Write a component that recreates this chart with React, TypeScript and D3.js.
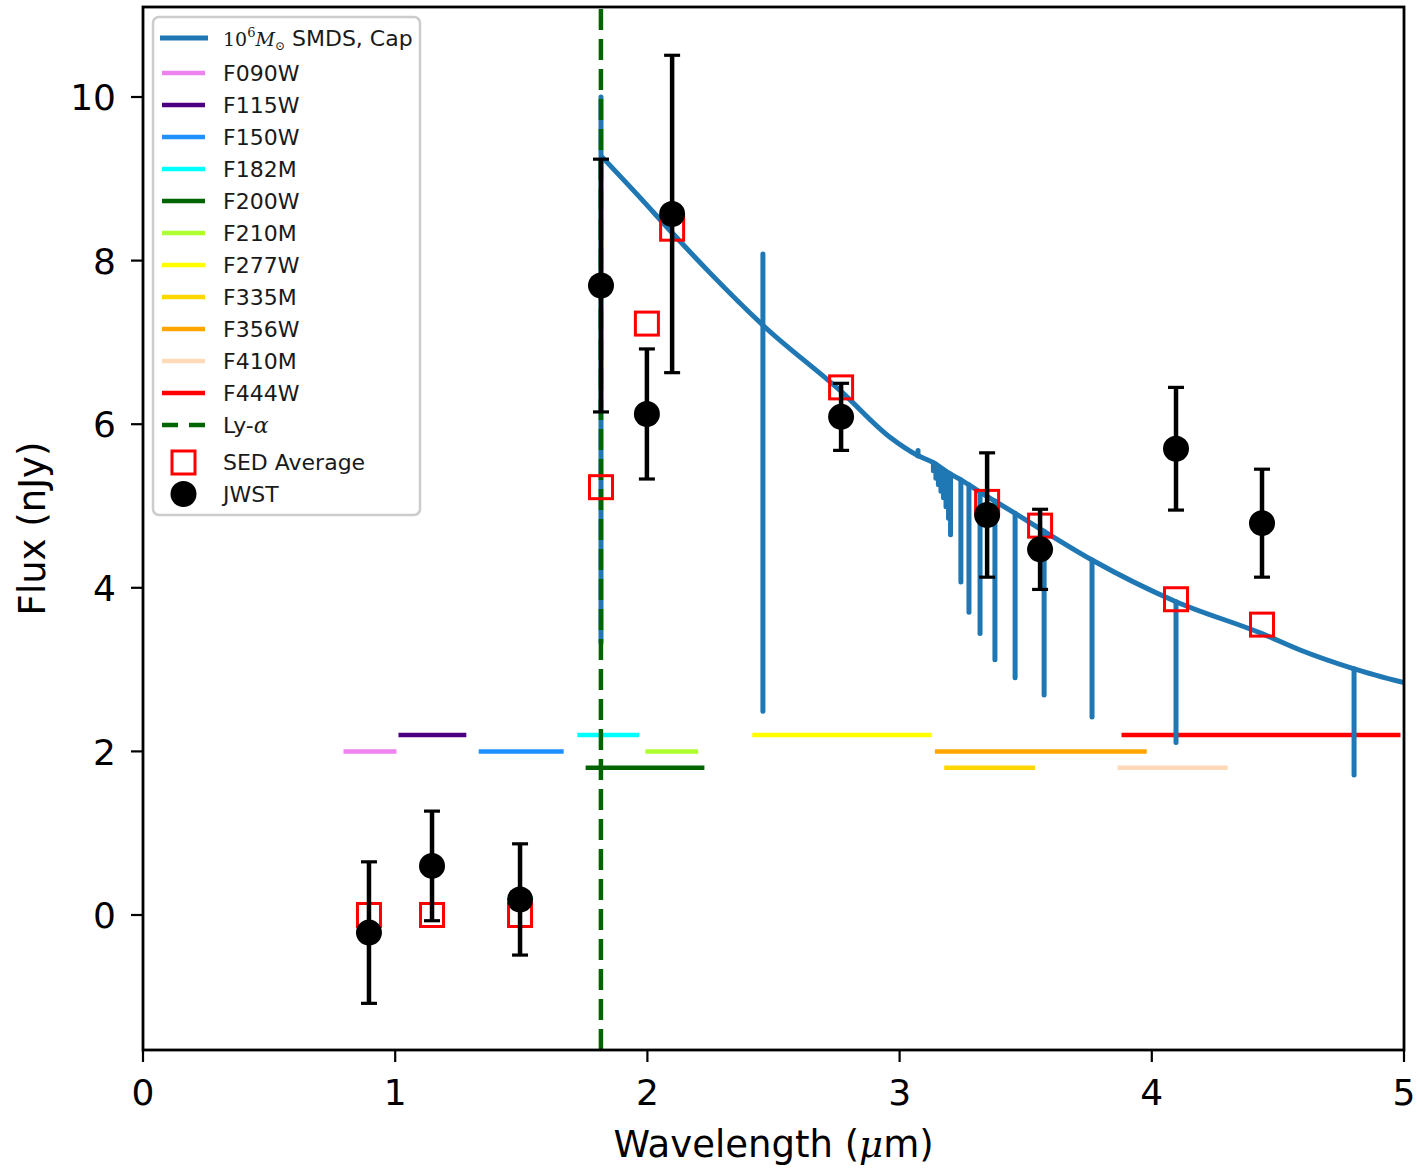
import React from "react";
import * as d3 from "d3";

// ---------- data ----------
const filterNames = ["F090W", "F115W", "F150W", "F182M", "F200W", "F210M", "F277W", "F335M", "F356W", "F410M", "F444W"];
const filterColors = ["#ee82ee", "#4b0082", "#1e90ff", "#00ffff", "#006400", "#adff2f", "#ffff00", "#ffd700", "#ffa500", "#ffdab9", "#ff0000"];
const filterMin = [0.795, 1.013, 1.331, 1.722, 1.755, 1.992, 2.416, 3.177, 3.140, 3.864, 3.880];
const filterMax = [1.005, 1.282, 1.668, 1.968, 2.226, 2.201, 3.127, 3.537, 3.980, 4.301, 4.986];
const filterLevel = [2.0, 2.2, 2.0, 2.2, 1.8, 2.0, 2.2, 1.8, 2.0, 1.8, 2.2];

// SMDS model continuum
const contWave = [1.816, 1.971, 2.098, 2.248, 2.458, 2.768, 2.962, 3.070, 3.134, 3.202, 3.243, 3.319, 3.378, 3.458, 3.573, 3.763, 4.096, 4.437, 4.588, 4.802, 5.0];
const contFlux = [9.28, 8.77, 8.34, 7.85, 7.21, 6.40, 5.84, 5.62, 5.53, 5.39, 5.32, 5.17, 5.06, 4.91, 4.69, 4.34, 3.83, 3.44, 3.24, 3.01, 2.84];

// SMDS model spectral lines (vertical features): wavelength, upper end, lower end
const lineWave = [1.816, 2.458, 3.073, 3.134, 3.144, 3.154, 3.164, 3.174, 3.184, 3.194, 3.202, 3.243, 3.275, 3.319, 3.378, 3.458, 3.573, 3.763, 4.096, 4.802];
const lineTop = [10.0, 8.08, 5.68, 5.53, 5.51, 5.48, 5.46, 5.44, 5.42, 5.40, 5.39, 5.32, 5.26, 5.17, 5.06, 4.91, 4.69, 4.34, 3.83, 3.01];
const lineBottom = [3.33, 2.49, 5.61, 5.43, 5.34, 5.26, 5.18, 5.10, 4.99, 4.85, 4.65, 4.07, 3.70, 3.44, 3.12, 2.90, 2.69, 2.42, 2.11, 1.71];

const jwstWave = [0.896, 1.146, 1.495, 1.816, 1.998, 2.098, 2.768, 3.347, 3.557, 4.096, 4.437];
const jwstFlux = [-0.215, 0.60, 0.19, 7.695, 6.125, 8.57, 6.09, 4.89, 4.47, 5.70, 4.79];
const jwstErr = [0.865, 0.67, 0.68, 1.545, 0.795, 1.94, 0.41, 0.76, 0.49, 0.75, 0.66];
const sedFlux = [0.0, 0.0, 0.0, 5.23, 7.23, 8.39, 6.45, 5.05, 4.76, 3.86, 3.55];

const lyaWave = 1.8157;

const xTicks = [0, 1, 2, 3, 4, 5];
const yTicks = [0, 2, 4, 6, 8, 10];

// ---------- layout ----------
const W = 1420;
const H = 1170;
const left = 143, right = 1404, top = 7, bottom = 1050;
const FONT = "DejaVu Sans, sans-serif";
const SERIF = "DejaVu Serif, serif";
const SPEC_COLOR = "#1f77b4";

export default function App() {
  const x = d3.scaleLinear().domain([0, 5]).range([left, right]);
  const y = d3.scaleLinear().domain([0, 10]).range([915, 97]);
  const yMin = y.invert(bottom);
  const yMax = y.invert(top);

  const contPts: [number, number][] = contWave.map((w, i) => [w, contFlux[i]]);
  const contLine = d3
    .line<[number, number]>()
    .x((d) => x(d[0]))
    .y((d) => y(d[1]))
    .curve(d3.curveMonotoneX);

  const tickFs = 36;
  const legFs = 22;

  const legendRows: { label: string; color: string; y: number }[] = filterNames.map((n, i) => ({
    label: n,
    color: filterColors[i],
    y: 73 + 32 * i,
  }));

  return (
    <svg width={W} height={H} style={{ position: "absolute", left: 0, top: 0, background: "#fff" }} xmlns="http://www.w3.org/2000/svg">
      <rect x={0} y={0} width={W} height={H} fill="#fff" />
      <defs>
        <clipPath id="plotclip">
          <rect x={left} y={top} width={right - left} height={bottom - top} />
        </clipPath>
      </defs>

      <g clipPath="url(#plotclip)">
        {/* filter bands */}
        {filterNames.map((n, i) => (
          <line key={n} x1={x(filterMin[i])} x2={x(filterMax[i])} y1={y(filterLevel[i])} y2={y(filterLevel[i])} stroke={filterColors[i]} strokeWidth={4.5} />
        ))}
        {/* spectrum */}
        <path d={contLine(contPts) || ""} fill="none" stroke={SPEC_COLOR} strokeWidth={5} strokeLinejoin="round" />
        {lineWave.map((w, i) => (
          <line key={"ln" + i} x1={x(w)} x2={x(w)} y1={y(lineTop[i])} y2={y(lineBottom[i])} stroke={SPEC_COLOR} strokeWidth={5} strokeLinecap="round" />
        ))}
        {/* Ly-alpha */}
        <line x1={x(lyaWave)} x2={x(lyaWave)} y1={y(yMin)} y2={y(yMax)} stroke="#006400" strokeWidth={4.5} strokeDasharray="21 9" />
        {/* SED average squares */}
        {jwstWave.map((w, i) => (
          <rect key={"s" + i} x={x(w) - 11.5} y={y(sedFlux[i]) - 11.5} width={23} height={23} fill="none" stroke="#ff0000" strokeWidth={3} />
        ))}
        {/* error bars */}
        {jwstWave.map((w, i) => (
          <g key={"e" + i} stroke="#000">
            <line x1={x(w)} x2={x(w)} y1={y(jwstFlux[i] - jwstErr[i])} y2={y(jwstFlux[i] + jwstErr[i])} strokeWidth={4.5} />
            <line x1={x(w) - 8} x2={x(w) + 8} y1={y(jwstFlux[i] + jwstErr[i])} y2={y(jwstFlux[i] + jwstErr[i])} strokeWidth={3.2} />
            <line x1={x(w) - 8} x2={x(w) + 8} y1={y(jwstFlux[i] - jwstErr[i])} y2={y(jwstFlux[i] - jwstErr[i])} strokeWidth={3.2} />
          </g>
        ))}
        {jwstWave.map((w, i) => (
          <circle key={"c" + i} cx={x(w)} cy={y(jwstFlux[i])} r={13} fill="#000" />
        ))}
      </g>

      {/* frame */}
      <rect x={left} y={top} width={right - left} height={bottom - top} fill="none" stroke="#000" strokeWidth={2.8} />

      {/* x ticks */}
      {xTicks.map((t) => (
        <g key={"xt" + t}>
          <line x1={x(t)} x2={x(t)} y1={bottom} y2={bottom + 12} stroke="#000" strokeWidth={2.2} />
          <text x={x(t)} y={1105} textAnchor="middle" fontFamily={FONT} fontSize={tickFs} fill="#000">
            {t}
          </text>
        </g>
      ))}
      {/* y ticks */}
      {yTicks.map((t) => (
        <g key={"yt" + t}>
          <line x1={left - 12} x2={left} y1={y(t)} y2={y(t)} stroke="#000" strokeWidth={2.2} />
          <text x={116} y={y(t) + 0.365 * tickFs} textAnchor="end" fontFamily={FONT} fontSize={tickFs} fill="#000">
            {t}
          </text>
        </g>
      ))}

      {/* axis labels */}
      <text x={(left + right) / 2} y={1157} textAnchor="middle" fontFamily={FONT} fontSize={37} fill="#000">
        Wavelength (<tspan fontFamily={SERIF} fontStyle="italic">μ</tspan>m)
      </text>
      <text transform={`translate(45, ${(top + bottom) / 2}) rotate(-90)`} textAnchor="middle" fontFamily={FONT} fontSize={37} fill="#000">
        Flux (nJy)
      </text>

      {/* legend */}
      <g>
        <rect x={153} y={17} width={267} height={498} rx={6} ry={6} fill="#fff" fillOpacity={0.8} stroke="#cccccc" strokeWidth={2.5} />
        <line x1={160} x2={208} y1={38} y2={38} stroke={SPEC_COLOR} strokeWidth={5} />
        <text x={223} y={38 + 0.365 * legFs} fontFamily={FONT} fontSize={legFs} fill="#1a1a1a">
          <tspan fontFamily={SERIF} fontSize={19}>10</tspan>
          <tspan fontFamily={SERIF} fontSize={13} dy={-9}>6</tspan>
          <tspan fontFamily={SERIF} fontSize={19} fontStyle="italic" dy={9}>M</tspan>
          <tspan fontFamily={SERIF} fontSize={12} dy={4}>⊙</tspan>
          <tspan dy={-4}> SMDS, Cap</tspan>
        </text>
        {legendRows.map((r) => (
          <g key={"l" + r.y}>
            <line x1={162} x2={205} y1={r.y} y2={r.y} stroke={r.color} strokeWidth={4.5} />
            <text x={223} y={r.y + 0.365 * legFs} fontFamily={FONT} fontSize={legFs} fill="#1a1a1a">
              {r.label}
            </text>
          </g>
        ))}
        <line x1={162} x2={205} y1={425} y2={425} stroke="#006400" strokeWidth={4.5} strokeDasharray="16 11" />
        <text x={223} y={425 + 0.365 * legFs} fontFamily={FONT} fontSize={legFs} fill="#1a1a1a">
          Ly-<tspan fontFamily={SERIF} fontStyle="italic">α</tspan>
        </text>
        <rect x={172} y={451} width={23} height={23} fill="none" stroke="#ff0000" strokeWidth={3} />
        <text x={223} y={462 + 0.365 * legFs} fontFamily={FONT} fontSize={legFs} fill="#1a1a1a">
          SED Average
        </text>
        <circle cx={183.5} cy={494} r={13} fill="#000" />
        <text x={223} y={494 + 0.365 * legFs} fontFamily={FONT} fontSize={legFs} fill="#1a1a1a">
          JWST
        </text>
      </g>
    </svg>
  );
}
